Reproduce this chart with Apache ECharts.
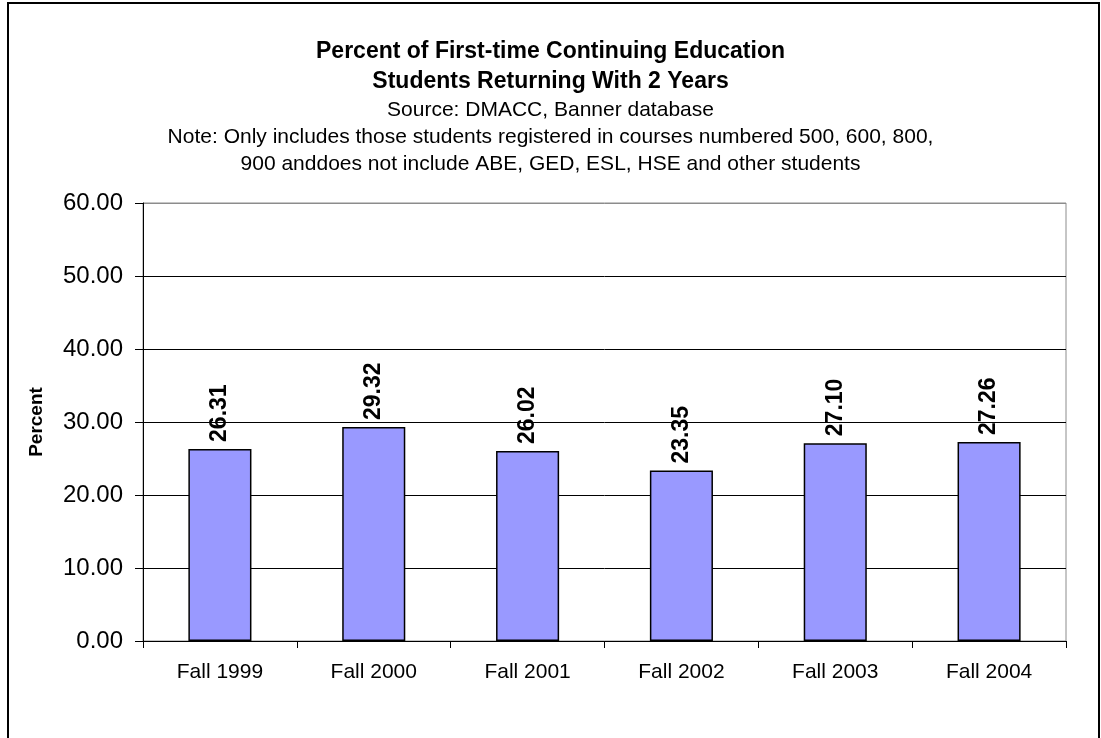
<!DOCTYPE html>
<html>
<head>
<meta charset="utf-8">
<script src="https://cdn.jsdelivr.net/npm/echarts@6/dist/echarts.min.js"></script>
<style>
    html, body { margin: 0; padding: 0; background: #fff; }
    #chart { width: 1101px; height: 738px; }
</style>
</head>
<body>
<div id="chart"></div>
<script>
    // data
    var terms = ['Fall 1999', 'Fall 2000', 'Fall 2001', 'Fall 2002', 'Fall 2003', 'Fall 2004'];
    var returnPct = [26.31, 29.32, 26.02, 23.35, 27.10, 27.26];
    var titleLines = ['Percent of First-time Continuing Education', 'Students Returning With 2 Years'];
    var noteLines = [
        'Source: DMACC, Banner database',
        'Note: Only includes those students registered in courses numbered 500, 600, 800,',
        '900 anddoes not include ABE, GED, ESL, HSE and other students'
    ];

    var font = 'Arial, "Liberation Sans", sans-serif';
    var chart = echarts.init(document.getElementById('chart'));

    var option = {
        backgroundColor: '#fff',
        animation: false,
        title: [
            {
                text: titleLines.join('\n'),
                left: 'center',
                top: 32,
                textStyle: { fontFamily: font, fontSize: 23, fontWeight: 'bold', color: '#000', lineHeight: 30 }
            },
            {
                text: noteLines.join('\n'),
                left: 'center',
                top: 92,
                textStyle: { fontFamily: font, fontSize: 21, fontWeight: 'normal', color: '#000', lineHeight: 27 }
            }
        ],
        graphic: [{
            type: 'rect',
            shape: { x: 8, y: 3, width: 1091, height: 800 },
            style: { fill: 'none', stroke: '#000', lineWidth: 2 },
            silent: true
        }],
        grid: {
            left: 143, right: 35, top: 203, bottom: 97,
            show: true, borderColor: '#8c8c8c', borderWidth: 1
        },
        xAxis: {
            type: 'category',
            data: terms,
            axisLine: { lineStyle: { color: '#000', width: 1 } },
            axisTick: { show: true, length: 7, lineStyle: { color: '#000' } },
            axisLabel: { fontFamily: font, fontSize: 21, color: '#000', margin: 21 }
        },
        yAxis: {
            type: 'value',
            min: 0, max: 60, interval: 10,
            name: 'Percent',
            nameLocation: 'middle',
            nameRotate: 90,
            nameGap: 97,
            nameTextStyle: { fontFamily: font, fontSize: 19, fontWeight: 'bold', color: '#000' },
            axisLine: { show: true, lineStyle: { color: '#000', width: 1 } },
            axisTick: { show: true, length: 8, lineStyle: { color: '#000' } },
            axisLabel: {
                fontFamily: font, fontSize: 24, color: '#000', margin: 20,
                formatter: function (v) { return v.toFixed(2); }
            },
            splitLine: {
                show: true,
                lineStyle: { color: ['#000', '#000', '#000', '#000', '#000', '#000', '#8c8c8c'], width: 1 }
            }
        },
        series: [{
            type: 'bar',
            data: returnPct,
            barWidth: '41%',
            itemStyle: { color: '#9999ff', borderColor: '#000', borderWidth: 1.5 },
            label: {
                show: true,
                position: 'top',
                rotate: 90,
                align: 'left',
                verticalAlign: 'middle',
                distance: 7,
                fontFamily: font,
                fontSize: 23,
                fontWeight: 'bold',
                color: '#000',
                formatter: function (p) { return p.value.toFixed(2); }
            }
        }]
    };

    chart.setOption(option);
</script>
</body>
</html>
